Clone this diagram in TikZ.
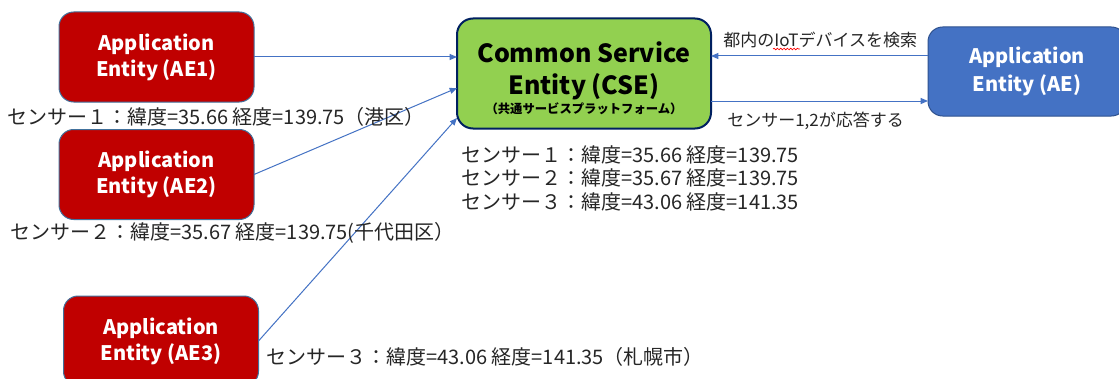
\documentclass[tikz,border=0pt]{standalone}
\usepackage{fontspec}
\setmainfont{Noto Sans CJK JP}
\usetikzlibrary{arrows.meta,calc,decorations.pathmorphing}
\definecolor{aered}{HTML}{C00000}
\definecolor{redline}{HTML}{41719C}
\definecolor{cseg}{HTML}{92D050}
\definecolor{csel}{HTML}{002060}
\definecolor{aeblue}{HTML}{4472C4}
\definecolor{blueline}{HTML}{2F528F}
\definecolor{conncol}{HTML}{4472C4}
\definecolor{txt}{HTML}{262626}
\newcommand\bigcse{\fontsize{18.75pt}{22.5pt}\selectfont}
\newcommand\smallcse{\fontsize{9.25pt}{11pt}\selectfont}
\begin{document}
\begin{tikzpicture}[x=0.75pt,y=-0.75pt,
  redbox/.style={draw=redline, line width=0.75pt, fill=aered, rounded corners=11pt,
    minimum width=146.25pt, minimum height=67.5pt, inner sep=0pt, outer sep=0pt,
    text=white, align=center, font=\fontsize{15pt}{19.5pt}\selectfont\bfseries},
  csebox/.style={draw=csel, line width=1.5pt, fill=cseg, rounded corners=12pt,
    minimum width=190.5pt, minimum height=82.5pt, inner sep=0pt, outer sep=0pt,
    text=black, align=center, font=\bfseries},
  bluebox/.style={draw=blueline, line width=0.75pt, fill=aeblue, rounded corners=11pt,
    minimum width=148.5pt, minimum height=66.75pt, inner sep=0pt, outer sep=0pt,
    text=white, align=center, font=\fontsize{15pt}{20.5pt}\selectfont\bfseries},
  conn/.style={draw=conncol, line width=0.75pt, -{Triangle[length=5.5pt,width=4.5pt]}},
  lbl/.style={text=txt, inner sep=0pt, anchor=west, font=\fontsize{15pt}{18pt}\selectfont},
  small/.style={text=txt, inner sep=0pt, anchor=west, font=\fontsize{12.75pt}{15pt}\selectfont}
]
\useasboundingbox (0,0) rectangle (1119,378);
\clip (0,0) rectangle (1119,378);
\fill[white] (0,0) rectangle (1119,378);

\node[redbox] (ae1) at (156.5,57) {Application\\Entity (AE1)};
\node[redbox] (ae2) at (156.5,174.5) {Application\\Entity (AE2)};
\node[redbox] (ae3) at (161,341) {Application\\Entity (AE3)};
\node[csebox] (cse) at (584,73.5) {\bigcse\rule{0pt}{22.5pt}Common Service\\[6.5pt]\bigcse Entity (CSE)\\[1pt]\smallcse （共通サービスプラットフォーム）};
\node[bluebox] (aer) at (1027,71.5) {Application\\Entity (AE)};

\draw[conn] (ae1.east) -- (ae1.east -| cse.west);
\draw[conn] (ae2.east) -- ($(cse.west)+(0,14.5)$);
\draw[conn] (ae3.east) -- ($(cse.west)+(0,44.5)$);
\coordinate (t1) at ($(cse.east)+(0,-17.5)$);
\coordinate (t2) at ($(cse.east)+(0,27.5)$);
\draw[conn] (t1 -| aer.west) -- (t1);
\draw[conn] (t2) -- (t2 -| aer.west);

\node[small] (q) at (723,40) {都内のIoTデバイスを検索};
\draw[red, line width=0.5pt, decorate, decoration={snake, amplitude=0.6pt, segment length=2.5pt}] (773,49) -- (800,49);
\node[small] (r) at (727,121) {センサー1,2が応答する};

\node[lbl] (s1) at (7,117) {センサー１：緯度=35.66 経度=139.75（港区）};
\node[lbl] (s2) at (10,233) {センサー２：緯度=35.67 経度=139.75(千代田区）};
\node[lbl] (s3) at (266,357) {センサー３：緯度=43.06 経度=141.35（札幌市）};
\node[lbl] (l1) at (461,155) {センサー１：緯度=35.66 経度=139.75};
\node[lbl] (l2) at (461,178) {センサー２：緯度=35.67 経度=139.75};
\node[lbl] (l3) at (461,202) {センサー３：緯度=43.06 経度=141.35};
\end{tikzpicture}
\end{document}
